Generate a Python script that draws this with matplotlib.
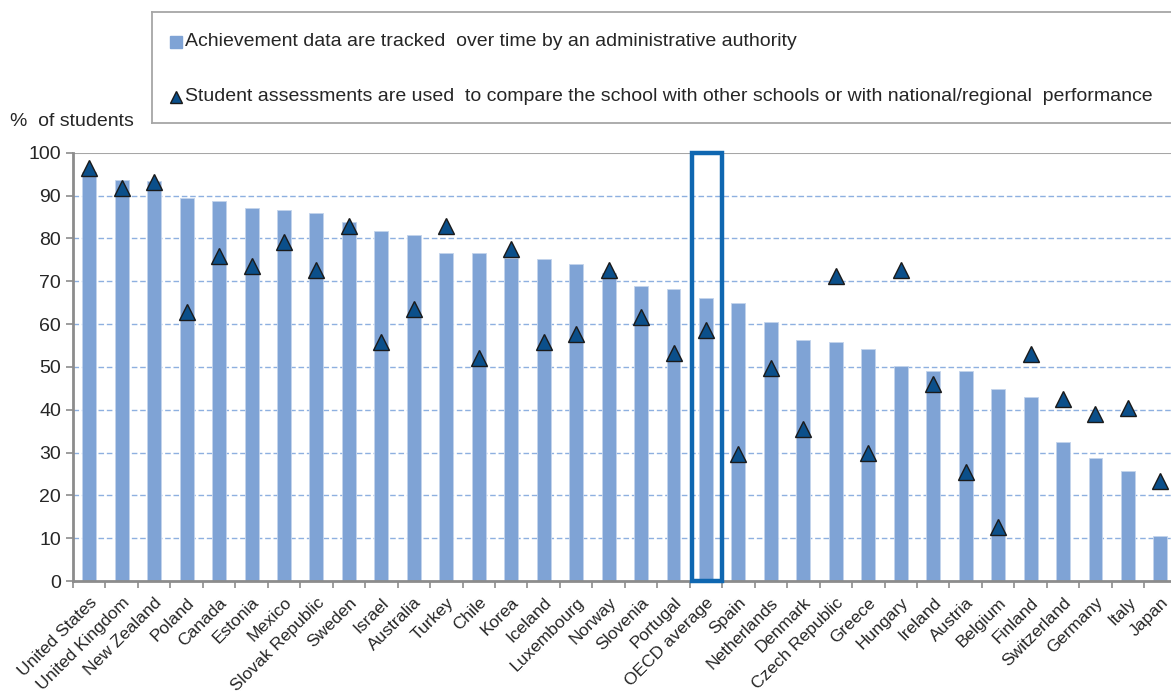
import matplotlib.pyplot as plt
from matplotlib.patches import Rectangle

countries = ["United States", "United Kingdom", "New Zealand", "Poland", "Canada",
             "Estonia", "Mexico", "Slovak Republic", "Sweden", "Israel", "Australia",
             "Turkey", "Chile", "Korea", "Iceland", "Luxembourg", "Norway", "Slovenia",
             "Portugal", "OECD average", "Spain", "Netherlands", "Denmark",
             "Czech Republic", "Greece", "Hungary", "Ireland", "Austria", "Belgium",
             "Finland", "Switzerland", "Germany", "Italy", "Japan"]
tracked = [95.5, 93.6, 93.5, 89.5, 88.7, 87.0, 86.7, 85.9, 83.8, 81.7, 80.7,
           76.5, 76.5, 75.5, 75.1, 74.1, 71.8, 68.8, 68.1, 66.0, 65.0, 60.4, 56.2,
           55.9, 54.1, 50.3, 49.0, 49.0, 44.8, 43.0, 32.5, 28.7, 25.6, 10.5]
compared = [96.5, 91.7, 93.1, 62.7, 75.8, 73.5, 79.1, 72.6, 83.0, 55.9, 63.6,
            83.0, 52.1, 77.4, 55.7, 57.6, 72.5, 61.6, 53.3, 58.5, 29.6, 49.8, 35.4,
            71.3, 29.8, 72.6, 46.1, 25.5, 12.7, 53.1, 42.6, 38.9, 40.3, 23.3]
yticks = [0, 10, 20, 30, 40, 50, 60, 70, 80, 90, 100]
highlight = "OECD average"

bar_color = "#7FA3D5"
tri_color = "#0B4F8A"
box_color = "#0F67B1"
grey = "#8C8C8C"
plt.rcParams["font.family"] = ["Liberation Sans", "DejaVu Sans"]

fig = plt.figure(figsize=(11.71, 6.99), dpi=100)
W, H = 1171, 699
x0, x1 = 73, 73 + 34 * 32.46
ax = fig.add_axes([x0 / W, (H - 581) / H, (x1 - x0) / W, (581 - 152.7) / H])

xs = range(len(countries))
ax.bar(xs, tracked, width=0.43, color=bar_color, edgecolor="#C3D4EC", linewidth=0.6, zorder=2)
ax.plot(xs, compared, linestyle="none", marker="^", markersize=11,
        markerfacecolor=tri_color, markeredgecolor="#1A1A1A", markeredgewidth=1.0, zorder=4)

# box around the OECD average
i = countries.index(highlight)
ax.add_patch(Rectangle((i - 0.43, 0), 0.93, 100, fill=False, edgecolor=box_color,
                       linewidth=3.2, zorder=5, clip_on=False))

ax.set_xlim(-0.5, len(countries) - 0.5)
ax.set_ylim(0, 100)
ax.set_yticks(yticks)
ax.tick_params(axis="y", labelsize=14, labelcolor="#262626", length=5, color=grey, width=1.2)

ax.set_xticks([k + 0.5 for k in range(-1, len(countries))], minor=True)
ax.set_xticks(list(xs))
ax.set_xticklabels(countries, rotation=45, ha="right", rotation_mode="anchor",
                   fontsize=12.5, color="#262626")
ax.tick_params(axis="x", which="major", length=0, pad=10)
ax.tick_params(axis="x", which="minor", length=5, color=grey, width=1.2)

for y in yticks[1:-1]:
    ax.axhline(y, color="#8EB0E0", linestyle=(0, (4, 2)), linewidth=1.0, zorder=1)
ax.axhline(100, color="#A6A6A6", linewidth=1.5, zorder=1)

for s in ["top", "right"]:
    ax.spines[s].set_visible(False)
for s in ["left", "bottom"]:
    ax.spines[s].set_color(grey)
    ax.spines[s].set_linewidth(2)

fig.text(10 / W, 1 - 121 / H, "%  of students", fontsize=14, va="center", color="#262626")

# legend box
lw_ = W + 5 - 152
lax = fig.add_axes([152 / W, 1 - 123 / H, lw_ / W, 111 / H])
lax.set_xlim(0, 1)
lax.set_ylim(0, 1)
lax.set_xticks([])
lax.set_yticks([])
for s in lax.spines.values():
    s.set_color("#A6A6A6")
    s.set_linewidth(1.3)
lax.plot([24 / lw_], [0.73], marker="s", markersize=8, color=bar_color, linestyle="none")
lax.plot([24 / lw_], [0.235], marker="^", markersize=9, markerfacecolor=tri_color,
         markeredgecolor="#1A1A1A", linestyle="none")
lax.text(33 / lw_, 0.73, "Achievement data are tracked  over time by an administrative authority",
         fontsize=14, va="center", color="#262626")
lax.text(33 / lw_, 0.235,
         "Student assessments are used  to compare the school with other schools or with national/regional  performance",
         fontsize=14, va="center", color="#262626")

fig.savefig("out.png", dpi=100)
